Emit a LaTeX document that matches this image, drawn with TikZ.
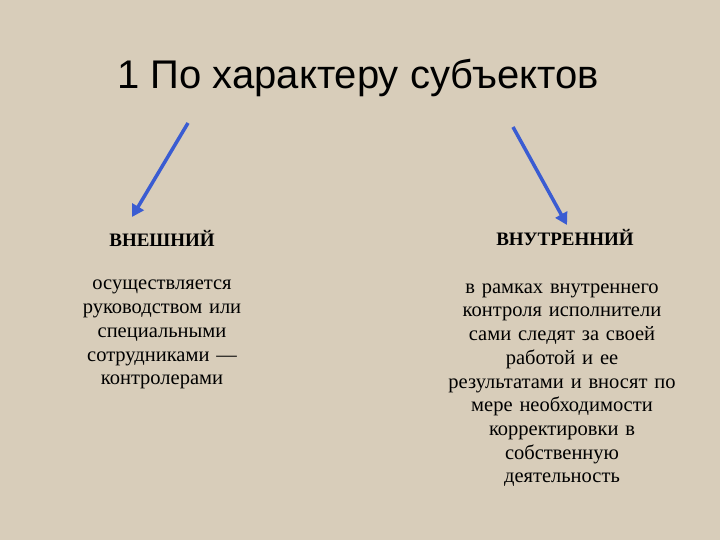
\documentclass[tikz,border=0pt]{standalone}
\usepackage{fontspec}
\setmainfont{Liberation Serif}
\newfontfamily\titlefont{Liberation Sans}
\usetikzlibrary{arrows.meta}
\definecolor{slidebg}{RGB}{216,205,186}
\definecolor{arrowblue}{RGB}{58,92,210}

\begin{document}
\begin{tikzpicture}[x=1pt,y=-1pt,
    pointer/.style={draw=arrowblue,line width=3.5pt,-{Triangle[length=12pt,width=13pt]}},
    kind/.style={font=\fontsize{19}{22}\selectfont\bfseries,inner sep=0pt,anchor=base},
    body/.style={font=\fontsize{20.5}{23.7}\selectfont,align=center,text width=260pt,inner sep=0pt,anchor=north}]
                    \fill[slidebg] (0,0) rectangle (720,540);
                    \useasboundingbox (0,0) rectangle (720,540);
                    \node[font=\titlefont\fontsize{40}{48}\selectfont,anchor=base,inner sep=0pt] (title) at (358,89) {1 По характеру субъектов};
                    \coordinate (l1) at (188,123);
                    \coordinate (r1) at (513,127);
                    \coordinate (l2) at (132,217);
                    \coordinate (r2) at (567,225);
                    \draw[pointer] (l1) -- (l2);
                    \draw[pointer] (r1) -- (r2);
                    \node[kind] (ext) at (162,246) {ВНЕШНИЙ};
                    \node[kind] (int) at (565,245) {ВНУТРЕННИЙ};
                    \node[body] (extbody) at (162,273.2) {\strut осуществляется\\ руководством или\\ специальными\\ сотрудниками —\\ контролерами};
                    \node[body] (intbody) at (562,276.5) {\strut в рамках внутреннего\\ контроля исполнители\\ сами следят за своей\\ работой и ее\\ результатами и вносят по\\ мере необходимости\\ корректировки в\\ собственную\\ деятельность};
                \end{tikzpicture}
\end{document}
